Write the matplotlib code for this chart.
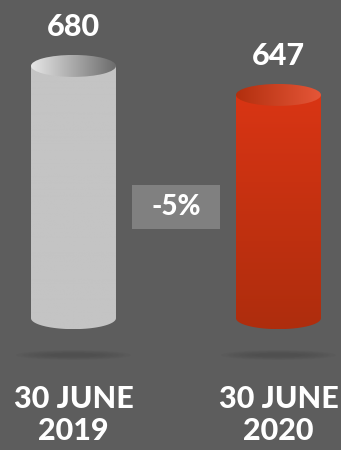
import numpy as np
import matplotlib.pyplot as plt
from matplotlib.patches import Ellipse, Rectangle, Path, PathPatch

# data
dates = ["30 JUNE\n2019", "30 JUNE\n2020"]
values = [680, 647]
change = "-5%"
base = 393  # value at which the cylinders start

bg = "#5d5d5d"
fig = plt.figure(figsize=(3.41, 4.5), dpi=100, facecolor=bg)
ax = fig.add_axes([0, 0, 1, 1])
ax.set_facecolor(bg)
xlim = (-0.3585, 1.305)
ylim = (243, 755)

w = 0.2073   # half width of cylinder
ry = 12.5    # half height of ellipse (data units)

body_cols = [("#c4c4c4", "#c4c4c4"), ("#d93514", "#ae2d0d")]
top_cols = [("#e6e6e6", "#6c6c6c"), ("#b22f0e", "#e55638")]


def grad_img(c1, c2, vertical):
    a = np.array(plt.matplotlib.colors.to_rgb(c1))
    b = np.array(plt.matplotlib.colors.to_rgb(c2))
    t = np.linspace(0, 1, 200)
    g = a[None, :] * (1 - t[:, None]) + b[None, :] * t[:, None]
    if vertical:
        return g[:, None, :]
    return g[None, :, :]


for i, v in enumerate(values):
    x = i
    # shadow under cylinder
    for k in range(6):
        ax.add_patch(Ellipse((x, 351), 0.56 - k * 0.06, 11 - k * 1.5,
                             color="#404040", alpha=0.08, lw=0))
    # body
    th = np.linspace(np.pi, 2 * np.pi, 60)
    verts = [(x - w, v)]
    verts += [(x + w * np.cos(t), base + ry * np.sin(t)) for t in th]
    verts += [(x + w, v), (x - w, v)]
    codes = [Path.MOVETO] + [Path.LINETO] * (len(verts) - 2) + [Path.CLOSEPOLY]
    body = PathPatch(Path(verts, codes), fc="none", ec="none")
    ax.add_patch(body)
    im = ax.imshow(grad_img(*body_cols[i], vertical=True),
                   extent=(x - w, x + w, base - ry, v), origin="upper",
                   aspect="auto", zorder=2)
    im.set_clip_path(body)
    # top
    top = Ellipse((x, v), 2 * w, 2 * ry, fc="none", ec="none")
    ax.add_patch(top)
    im2 = ax.imshow(grad_img(*top_cols[i], vertical=False),
                    extent=(x - w, x + w, v - ry, v + ry),
                    aspect="auto", zorder=3)
    im2.set_clip_path(top)
    # value label
    ax.text(x, v + 44, str(v), ha="center", va="center", color="white",
            fontsize=22, fontweight="black", family="Lato")
    # date label
    ax.text(x, 283, dates[i], ha="center", va="center", color="white",
            fontsize=22, fontweight="black", family="Lato", linespacing=1.15)

# change box
ax.add_patch(Rectangle((0.285, 494.4), 0.43, 50, fc="#808080", ec="none", zorder=2))
ax.text(0.5, 519.5, change, ha="center", va="center", color="white",
        fontsize=20, fontweight="black", family="Lato", zorder=3)

ax.set_xlim(*xlim)
ax.set_ylim(*ylim)
ax.axis("off")
fig.savefig("out.png", dpi=100, facecolor=bg)
